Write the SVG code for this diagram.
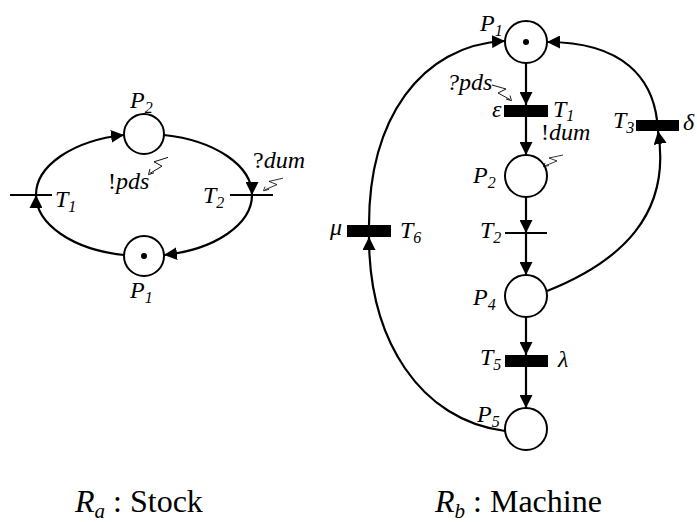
<svg xmlns="http://www.w3.org/2000/svg" xmlns:xlink="http://www.w3.org/1999/xlink" width="697" height="522" viewBox="0 0 697 522">
  <style>
    .place { fill: #fff; stroke: #000; stroke-width: 2; }
    .token { fill: #000; }
    .tbar { fill: #000; }
    .tline { stroke: #000; stroke-width: 2; }
    .arc { fill: none; stroke: #000; stroke-width: 2.2; marker-end: url(#arr); }
    .bolt { fill: none; stroke: #000; stroke-width: 0.9; stroke-linejoin: miter; }
    text { font-family: 'Liberation Serif', 'DejaVu Serif', 'Times New Roman', serif; fill: #000; }
    .lbl { font-style: italic; font-size: 24px; }
    .sub { font-size: 16px; }
    .up { font-style: normal; }
    .cap { font-size: 32px; }
    .csub { font-size: 21px; font-style: italic; }
  </style>
  <defs>
    <marker id="arr" markerUnits="userSpaceOnUse" markerWidth="13" markerHeight="13" viewBox="0 0 13 13" refX="13" refY="6.5" orient="auto">
      <path d="M0,0 L13,6.5 L0,13 Z" fill="#000"/>
    </marker>
    <!-- small lightning arrow used for message send/receive; tip at origin -->
    <path id="bolt" class="bolt" d="M20,-16 L6,-12 L14,-8 L2,-1.5 M0.5,-0.3 L2,-5.5 M0.5,-0.3 L6,-2"/>
  </defs>

  <!-- ===== Net Ra : Stock ===== -->
  <g id="ra-connectors">
    <path class="arc" d="M164,135 A108,61 0 0 1 252,195"/>
    <path class="arc" d="M252,195 A108,61 0 0 1 164,255"/>
    <path class="arc" d="M124,255 A108,61 0 0 1 36,195"/>
    <path class="arc" d="M36,195 A108,61 0 0 1 124,135"/>
  </g>
  <g id="ra-P2">
    <circle class="place" cx="144" cy="134" r="20"/>
    <text class="lbl" font-family="Liberation Serif, DejaVu Serif, serif" x="130" y="108">P<tspan class="sub" dy="5">2</tspan></text>
  </g>
  <g id="ra-P1">
    <circle class="place" cx="144" cy="256" r="20"/>
    <circle class="token" cx="144" cy="256" r="3"/>
    <text class="lbl" font-family="Liberation Serif, DejaVu Serif, serif" x="130" y="298">P<tspan class="sub" dy="5">1</tspan></text>
  </g>
  <g id="ra-T1">
    <line class="tline" x1="10" y1="195" x2="52" y2="195"/>
    <text class="lbl" font-family="Liberation Serif, DejaVu Serif, serif" x="55" y="207">T<tspan class="sub" dy="5">1</tspan></text>
  </g>
  <g id="ra-T2">
    <line class="tline" x1="230" y1="195" x2="273" y2="195"/>
    <text class="lbl" font-family="Liberation Serif, DejaVu Serif, serif" x="203" y="203">T<tspan class="sub" dy="5">2</tspan></text>
    <text class="lbl" font-family="Liberation Serif, DejaVu Serif, serif" x="253" y="168"><tspan class="up">?</tspan>dum</text>
    <use xlink:href="#bolt" transform="translate(263,191) scale(1,0.8)"/>
  </g>
  <g id="ra-pds">
    <text class="lbl" font-family="Liberation Serif, DejaVu Serif, serif" x="108" y="189"><tspan class="up">!</tspan>pds</text>
    <use xlink:href="#bolt" transform="translate(148,175) scale(1,1.1)"/>
  </g>

  <!-- ===== Net Rb : Machine ===== -->
  <g id="rb-connectors">
    <line class="arc" x1="526" y1="63" x2="526" y2="105"/>
    <line class="arc" x1="526" y1="117" x2="526" y2="155"/>
    <line class="arc" x1="526" y1="197" x2="526" y2="233"/>
    <line class="arc" x1="526" y1="233" x2="526" y2="275"/>
    <line class="arc" x1="526" y1="317" x2="526" y2="355"/>
    <line class="arc" x1="526" y1="367" x2="526" y2="408"/>
    <path class="arc" d="M547,291 C620,262 672,215 658,131"/>
    <path class="arc" d="M657,120 C652,80 625,42 547,42"/>
    <path class="arc" d="M505,431 C420,420 369,340 369,237"/>
    <path class="arc" d="M369,225 C369,120 420,45 505,41"/>
  </g>
  <g id="rb-P1">
    <circle class="place" cx="526" cy="42" r="21"/>
    <circle class="token" cx="526" cy="42" r="3"/>
    <text class="lbl" font-family="Liberation Serif, DejaVu Serif, serif" x="480" y="31">P<tspan class="sub" dy="5">1</tspan></text>
  </g>
  <g id="rb-T1">
    <rect class="tbar" x="504" y="105" width="44" height="12"/>
    <text class="lbl" font-family="Liberation Serif, DejaVu Serif, serif" x="553" y="117">T<tspan class="sub" dy="4">1</tspan></text>
    <text class="lbl" font-family="Liberation Serif, DejaVu Serif, serif" x="492" y="117">ε</text>
    <text class="lbl" font-family="Liberation Serif, DejaVu Serif, serif" x="447" y="90">?pds</text>
    <use xlink:href="#bolt" transform="translate(512,101) scale(-1,1)"/>
  </g>
  <g id="rb-P2">
    <circle class="place" cx="526" cy="176" r="21"/>
    <text class="lbl" font-family="Liberation Serif, DejaVu Serif, serif" x="473" y="183">P<tspan class="sub" dy="5">2</tspan></text>
    <text class="lbl" font-family="Liberation Serif, DejaVu Serif, serif" x="541" y="140"><tspan class="up">!</tspan>dum</text>
    <use xlink:href="#bolt" transform="translate(543,167) scale(1,0.75)"/>
  </g>
  <g id="rb-T2">
    <line class="tline" x1="505" y1="233" x2="547" y2="233"/>
    <text class="lbl" font-family="Liberation Serif, DejaVu Serif, serif" x="480" y="238">T<tspan class="sub" dy="5">2</tspan></text>
  </g>
  <g id="rb-P4">
    <circle class="place" cx="526" cy="296" r="21"/>
    <text class="lbl" font-family="Liberation Serif, DejaVu Serif, serif" x="473" y="305">P<tspan class="sub" dy="5">4</tspan></text>
  </g>
  <g id="rb-T5">
    <rect class="tbar" x="505" y="355" width="43" height="12"/>
    <text class="lbl" font-family="Liberation Serif, DejaVu Serif, serif" x="480" y="365">T<tspan class="sub" dy="5">5</tspan></text>
    <text class="lbl" font-family="Liberation Serif, DejaVu Serif, serif" x="558" y="367">λ</text>
  </g>
  <g id="rb-P5">
    <circle class="place" cx="526" cy="429" r="21"/>
    <text class="lbl" font-family="Liberation Serif, DejaVu Serif, serif" x="477" y="422">P<tspan class="sub" dy="5">5</tspan></text>
  </g>
  <g id="rb-T3">
    <rect class="tbar" x="636" y="120" width="43" height="11"/>
    <text class="lbl" font-family="Liberation Serif, DejaVu Serif, serif" x="613" y="128">T<tspan class="sub" dy="5">3</tspan></text>
    <text class="lbl" font-family="Liberation Serif, DejaVu Serif, serif" x="683" y="130">δ</text>
  </g>
  <g id="rb-T6">
    <rect class="tbar" x="347" y="225" width="44" height="12"/>
    <text class="lbl" font-family="Liberation Serif, DejaVu Serif, serif" x="400" y="238">T<tspan class="sub" dy="5">6</tspan></text>
    <text class="lbl" font-family="Liberation Serif, DejaVu Serif, serif" x="330" y="235">μ</text>
  </g>

  <!-- captions -->
  <g id="captions">
    <text class="cap" font-family="Liberation Serif, DejaVu Serif, serif" x="75" y="512"><tspan font-style="italic">R</tspan><tspan class="csub" dy="6">a</tspan><tspan dy="-6"> : Stock</tspan></text>
    <text class="cap" font-family="Liberation Serif, DejaVu Serif, serif" x="435" y="512"><tspan font-style="italic">R</tspan><tspan class="csub" dy="6">b</tspan><tspan dy="-6"> : Machine</tspan></text>
  </g>
</svg>
